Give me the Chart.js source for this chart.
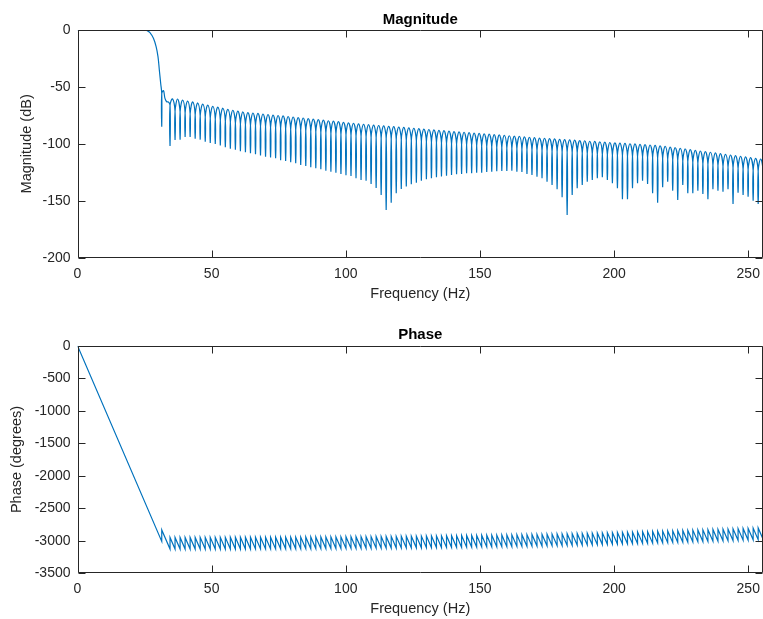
<!DOCTYPE html>
<html><head><meta charset="utf-8">
<script src="https://cdn.jsdelivr.net/npm/chart.js@4"></script>
<style>
html,body{margin:0;padding:0;background:#fff;}
#wrap{position:relative;width:763px;height:619px;overflow:hidden;background:#fff;}
canvas{position:absolute;left:0;}
</style></head><body>
<div id="wrap">
<canvas id="mag" width="763" height="310" style="top:0px"></canvas>
<canvas id="ph" width="763" height="309" style="top:310px"></canvas>
</div>
<script>
// ---- tick labels ----
const xTicks = [0, 50, 100, 150, 200, 250];
const magTicks = [-200, -150, -100, -50, 0];
const phaseTicks = [-3500, -3000, -2500, -2000, -1500, -1000, -500, 0];

// ---- passband / transition band (Hz, dB) ----
const transHz = [0, 24.5, 25.8, 27.0, 28.3, 29.3, 30.0, 30.5, 31.0, 31.4, 31.4, 31.4, 32.05, 32.6, 33.25, 33.85];
const transDb = [0, 0, -0.3, -2.3, -7.3, -14.6, -23.4, -35.1, -46.8, -56, -85, -56, -53.3, -60, -63, -63.2];

// ---- stopband nulls (Hz) ----
const nullHz = [34.49,36.36,38.24,40.11,41.98,43.86,45.73,47.61,49.48,51.35,
53.23,55.10,56.97,58.85,60.72,62.59,64.47,66.34,68.21,70.09,
71.96,73.84,75.71,77.58,79.46,81.33,83.20,85.08,86.95,88.82,
90.70,92.57,94.45,96.32,98.19,100.07,101.94,103.81,105.69,107.56,
109.43,111.31,113.18,115.05,116.93,118.80,120.68,122.55,124.42,126.30,
128.17,130.04,131.92,133.79,135.66,137.54,139.41,141.29,143.16,145.03,
146.91,148.78,150.65,152.53,154.40,156.27,158.15,160.02,161.89,163.77,
165.64,167.52,169.39,171.26,173.14,175.01,176.88,178.76,180.63,182.50,
184.38,186.25,188.13,190.00,191.87,193.75,195.62,197.49,199.37,201.24,
203.11,204.99,206.86,208.74,210.61,212.48,214.36,216.23,218.10,219.98,
221.85,223.72,225.60,227.47,229.34,231.22,233.09,234.97,236.84,238.71,
240.59,242.46,244.33,246.21,248.08,249.95,251.83,253.70,255.57];

// depth of each null (dB)
const nullDb = [-101.9,-96.6,-96.3,-94.0,-94.0,-95.6,-96.3,-98.1,-99.3,-100.0,
-101.5,-102.9,-104.3,-105.1,-106.5,-107.3,-108.3,-109.1,-110.2,-111.3,
-112.0,-112.7,-114.4,-115.0,-116.1,-117.1,-118.6,-119.5,-120.6,-121.5,
-122.4,-123.6,-124.5,-125.3,-126.5,-127.6,-128.2,-130.3,-131.8,-132.4,
-135.3,-138.8,-144.9,-158.1,-151.7,-143.4,-139.7,-137.5,-135.5,-134.1,
-132.4,-131.1,-130.3,-129.4,-128.7,-128.0,-127.4,-126.7,-126.5,-125.9,
-125.9,-125.3,-125.3,-124.7,-124.5,-124.1,-123.8,-123.8,-123.6,-124.5,
-124.7,-126.5,-127.4,-128.9,-130.3,-133.2,-136.1,-139.9,-146.9,-162.5,
-144.9,-139.0,-136.1,-133.2,-131.8,-130.3,-129.4,-131.8,-134.6,-139.0,
-148.7,-148.7,-139.0,-134.6,-132.4,-135.3,-143.4,-151.7,-138.1,-133.2,
-141.1,-149.3,-136.1,-143.4,-143.4,-141.1,-144.0,-148.7,-139.9,-141.1,
-142.0,-139.9,-152.8,-142.9,-144.9,-146.4,-149.9,-152.8,-145.8];

// level where neighbouring lobes meet above each null (dB)
const cuspDb = [-66.0,-71.6,-72.1,-73.0,-73.8,-74.7,-75.6,-76.5,-77.5,-78.4,
-79.3,-80.2,-81.1,-81.9,-82.7,-83.3,-83.8,-84.1,-84.6,-85.0,
-85.5,-85.9,-86.3,-86.8,-87.2,-87.7,-88.1,-88.6,-89.1,-89.5,
-90.0,-90.5,-90.9,-91.3,-91.8,-92.3,-92.7,-93.2,-93.6,-94.0,
-94.4,-94.7,-95.1,-95.4,-95.8,-96.1,-96.5,-96.8,-97.2,-97.5,
-97.9,-98.2,-98.6,-98.9,-99.3,-99.6,-100.0,-100.4,-100.7,-101.0,
-101.3,-101.7,-102.0,-102.4,-102.7,-103.1,-103.4,-103.8,-104.1,-104.4,
-104.7,-105.1,-105.4,-105.7,-106.0,-106.3,-106.6,-106.9,-107.2,-107.4,
-107.7,-108.0,-108.2,-108.5,-108.8,-109.1,-109.4,-109.7,-110.0,-110.2,
-110.5,-110.8,-111.0,-111.3,-111.6,-111.9,-112.2,-112.6,-113.0,-113.5,
-114.1,-114.7,-115.2,-115.8,-116.4,-117.0,-117.6,-118.1,-118.7,-119.3,
-119.9,-120.5,-121.1,-121.6,-122.2,-122.8,-123.4,-124.0,-124.3];

// top of each side lobe (dB), lobe k lies between null k and null k+1
const peakDb = [-60.6,-60.6,-61.5,-62.4,-63.2,-64.1,-65.0,-65.9,-67.0,-67.8,
-68.7,-69.6,-70.5,-71.3,-72.0,-72.6,-72.9,-73.3,-73.8,-74.2,
-74.7,-75.1,-75.5,-76.0,-76.4,-76.9,-77.3,-77.8,-78.3,-78.7,
-79.2,-79.7,-80.1,-80.5,-81.1,-81.5,-81.9,-82.4,-82.8,-83.2,
-83.5,-83.9,-84.2,-84.6,-84.9,-85.3,-85.6,-86.0,-86.3,-86.7,
-87.0,-87.4,-87.7,-88.1,-88.4,-88.8,-89.2,-89.5,-89.8,-90.1,
-90.5,-90.8,-91.2,-91.5,-91.9,-92.2,-92.6,-92.9,-93.2,-93.5,
-93.9,-94.2,-94.5,-94.9,-95.1,-95.4,-95.7,-96.0,-96.3,-96.5,
-96.8,-97.1,-97.3,-97.7,-97.9,-98.2,-98.5,-98.8,-99.1,-99.3,
-99.6,-99.9,-100.1,-100.5,-100.7,-101.0,-101.4,-101.7,-102.2,-102.8,
-103.4,-103.9,-104.5,-105.0,-105.7,-106.3,-106.8,-107.4,-108.0,-108.6,
-109.2,-109.8,-110.3,-110.9,-111.5,-112.1,-112.7,-113.3];

// ---- phase (degrees) ----
const transPhaseHz = [0, 31.4, 31.4];
const transPhaseDeg = [0, -3010, -2834];
// phase just before each null's +180 jump
const phaseLow = [-3128,-3128,-3128,-3128,-3128,-3128,-3127,-3127,-3127,-3127,
-3127,-3127,-3126,-3126,-3126,-3126,-3126,-3125,-3125,-3125,
-3125,-3125,-3124,-3124,-3124,-3123,-3123,-3122,-3122,-3121,
-3121,-3120,-3120,-3119,-3119,-3118,-3117,-3117,-3116,-3115,
-3115,-3114,-3113,-3113,-3112,-3111,-3110,-3110,-3109,-3108,
-3107,-3106,-3105,-3104,-3103,-3102,-3101,-3100,-3099,-3098,
-3097,-3096,-3095,-3094,-3093,-3092,-3091,-3090,-3088,-3087,
-3086,-3084,-3083,-3081,-3080,-3078,-3076,-3075,-3073,-3071,
-3069,-3067,-3065,-3063,-3061,-3059,-3057,-3055,-3053,-3051,
-3049,-3047,-3045,-3042,-3040,-3038,-3036,-3033,-3031,-3029,
-3026,-3024,-3021,-3019,-3016,-3014,-3011,-3009,-3006,-3004,
-3001,-2999,-2996,-2993,-2991,-2988,-2985,-2983,-2980];
// phase just after each null's jump
const phaseHigh = [-2948,-2948,-2948,-2948,-2948,-2948,-2947,-2947,-2947,-2947,
-2947,-2947,-2946,-2946,-2946,-2946,-2946,-2945,-2945,-2945,
-2945,-2945,-2944,-2944,-2944,-2943,-2943,-2942,-2942,-2941,
-2941,-2940,-2940,-2939,-2939,-2938,-2937,-2937,-2936,-2935,
-2935,-2934,-2933,-2933,-2932,-2931,-2930,-2930,-2929,-2928,
-2927,-2926,-2925,-2924,-2923,-2922,-2921,-2920,-2919,-2918,
-2917,-2916,-2915,-2914,-2913,-2912,-2911,-2910,-2908,-2907,
-2906,-2904,-2903,-2901,-2900,-2898,-2896,-2895,-2893,-2891,
-2889,-2887,-2885,-2883,-2881,-2879,-2877,-2875,-2873,-2871,
-2869,-2867,-2865,-2862,-2860,-2858,-2856,-2853,-2851,-2849,
-2846,-2844,-2841,-2839,-2836,-2834,-2831,-2829,-2826,-2824,
-2821,-2819,-2816,-2813,-2811,-2808,-2805,-2803,-2800];

// ---- build point tables ----
const magPoints = transHz.map((x, i) => ({x: x, y: transDb[i]}));
for (let k = 0; k < nullHz.length; k++) {
  magPoints.push({x: nullHz[k], y: cuspDb[k]}, {x: nullHz[k], y: nullDb[k]}, {x: nullHz[k], y: cuspDb[k]});
  if (k < peakDb.length) magPoints.push({x: (nullHz[k] + nullHz[k + 1]) / 2, y: peakDb[k]});
}
const phasePoints = transPhaseHz.map((x, i) => ({x: x, y: transPhaseDeg[i]}));
for (let k = 0; k < nullHz.length; k++) {
  phasePoints.push({x: nullHz[k], y: phaseLow[k]}, {x: nullHz[k], y: phaseHigh[k]});
}

const FONT = '"Liberation Sans", Arial, Helvetica, sans-serif';
const INK = '#262626';
const LINE = '#0072BD';

function framePlugin(title) {
  return {
    id: 'frame',
    afterDraw(chart) {
      const ctx = chart.ctx, a = chart.chartArea, sx = chart.scales.x, sy = chart.scales.y;
      const L = Math.round(a.left) + 0.5, R = Math.round(a.right) - 0.5;
      const T = Math.round(a.top) + 0.5, B = Math.round(a.bottom) - 0.5;
      ctx.save();
      ctx.strokeStyle = INK; ctx.lineWidth = 1;
      ctx.beginPath();
      ctx.rect(L, T, R - L, B - T);
      const tl = 7;
      sx.ticks.forEach(t => {
        const px = Math.round(sx.getPixelForValue(t.value)) + 0.5;
        ctx.moveTo(px, B); ctx.lineTo(px, B - tl);
        ctx.moveTo(px, T); ctx.lineTo(px, T + tl);
      });
      sy.ticks.forEach(t => {
        const py = Math.round(sy.getPixelForValue(t.value)) + 0.5;
        ctx.moveTo(L, py); ctx.lineTo(L + tl, py);
        ctx.moveTo(R, py); ctx.lineTo(R - tl, py);
      });
      ctx.stroke();
      ctx.fillStyle = '#000';
      ctx.font = 'bold 15px ' + FONT;
      ctx.textAlign = 'center'; ctx.textBaseline = 'middle';
      ctx.fillText(title, (a.left + a.right) / 2, a.top - 10.5);
      ctx.restore();
    }
  };
}

function makeChart(id, points, yTicks, yMin, yTitle, topPad, xAxisH, yTitlePad, xTitlePadB, tension) {
  return new Chart(document.getElementById(id), {
    type: 'line',
    data: {datasets: [{data: points, borderColor: LINE, borderWidth: 1.2, pointRadius: 0, tension: tension, fill: false}]},
    options: {
      responsive: false, animation: false, events: [], parsing: false,
      layout: {padding: {top: topPad, right: 0, bottom: 0, left: 0}},
      plugins: {legend: {display: false}, tooltip: {enabled: false}, title: {display: false}},
      scales: {
        x: {
          type: 'linear', min: 0, max: 255.5,
          afterBuildTicks: s => { s.ticks = xTicks.map(v => ({value: v})); },
          afterFit: s => { s.height = xAxisH; s.paddingLeft = 0; s.paddingRight = 0; },
          grid: {display: false, drawTicks: false}, border: {display: false},
          ticks: {padding: 7.6, color: INK, font: {family: FONT, size: 14}, maxRotation: 0, autoSkip: false,
                  callback: v => String(v)},
          title: {display: true, text: 'Frequency (Hz)', color: INK, font: {family: FONT, size: 14.5},
                  padding: {top: 0, bottom: xTitlePadB}}
        },
        y: {
          type: 'linear', min: yMin, max: 0,
          afterBuildTicks: s => { s.ticks = yTicks.map(v => ({value: v})); },
          afterFit: s => { s.width = 77.5; s.paddingTop = 0; s.paddingBottom = 0; },
          grid: {display: false, drawTicks: false}, border: {display: false},
          ticks: {padding: 7, color: INK, font: {family: FONT, size: 14}, autoSkip: false,
                  callback: v => String(v)},
          title: {display: true, text: yTitle, color: INK, font: {family: FONT, size: 14.5},
                  padding: {top: yTitlePad, bottom: 0}}
        }
      }
    },
    plugins: [framePlugin(id === 'mag' ? 'Magnitude' : 'Phase')]
  });
}

makeChart('mag', magPoints, magTicks, -200, 'Magnitude (dB)', 30, 52.3, 18.3, 7.6, 0.4);
makeChart('ph', phasePoints, phaseTicks, -3500, 'Phase (degrees)', 35.7, 45.7, 8.3, 1.0, 0);
</script>
</body></html>
